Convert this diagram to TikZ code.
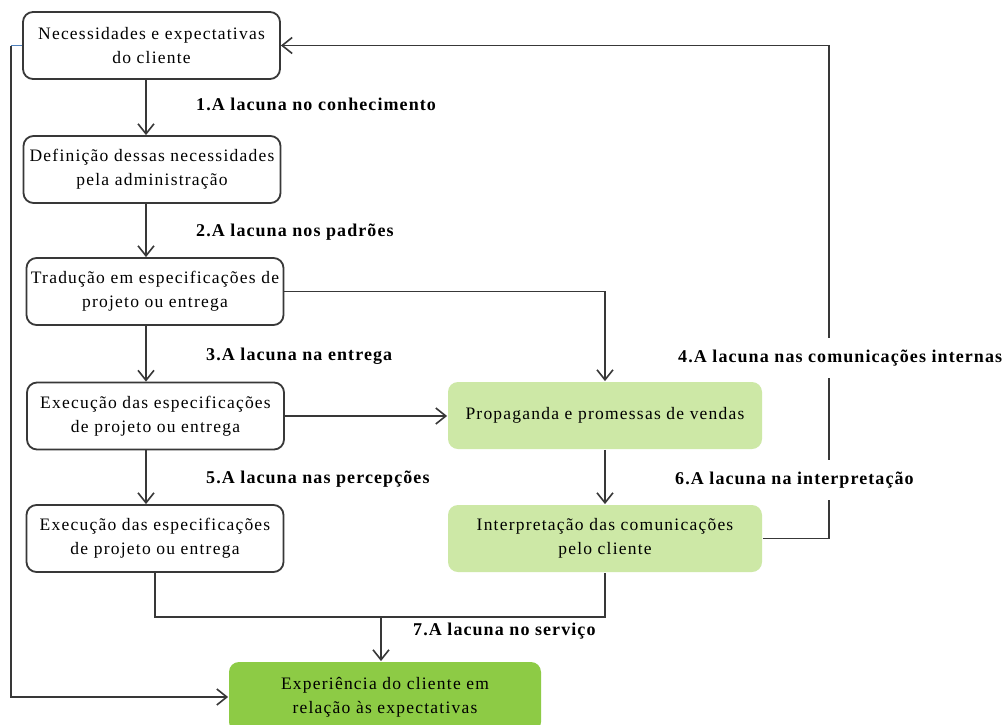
\documentclass[tikz,border=0pt]{standalone}
\usepackage{fontspec}
\setmainfont{Liberation Serif}
\newfontfamily\bodyfont{Liberation Serif}[LetterSpace=7]
\newfontfamily\lblfont{Liberation Serif}[LetterSpace=6]
\usetikzlibrary{arrows.meta}
\definecolor{edge}{HTML}{383838}
\definecolor{lgreen}{HTML}{CDE8A6}
\definecolor{dgreen}{HTML}{8DCB45}
\definecolor{lblue}{HTML}{4F81BD}
\tikzset{
  box/.style={draw=edge, line width=1.8pt, rounded corners=10pt, fill=white,
    minimum width=257pt, minimum height=67pt, inner sep=0pt, align=center,
    font=\bodyfont\fontsize{17.5}{24}\selectfont},
  gbox/.style={box, draw=none, fill=lgreen, minimum width=314pt},
  ebox/.style={box, draw=none, fill=dgreen, minimum width=312pt, minimum height=70pt},
  conn/.style={draw=edge, line width=1.8pt},
  arr/.style={conn, -{Straight Barb[length=10pt,width=16pt,line width=1.6pt]}},
  lbl/.style={anchor=west, inner xsep=1pt, inner ysep=2pt,
    font=\lblfont\bfseries\fontsize{18}{20}\selectfont},
  glbl/.style={lbl, fill=white, inner ysep=12pt}
}
\begin{document}
\begin{tikzpicture}[x=1pt,y=-1pt]
\useasboundingbox (0,0) rectangle (1005,724);
\fill[white] (0,0) rectangle (1005,724);
% boxes
\node[box] (n1) at (151.5,45.5) {Necessidades e expectativas\\do cliente};
\node[box] (n2) at (152,169.5) {Definição dessas necessidades\\pela administração};
\node[box] (n3) at (155,291.5) {Tradução em especificações de\\projeto ou entrega};
\node[box] (n4) at (155.5,416) {Execução das especificações\\de projeto ou entrega};
\node[box] (n5) at (155,538.5) {Execução das especificações\\de projeto ou entrega};
\node[gbox] (pr) at (605,415.5) {\raisebox{3pt}{Propaganda e promessas de vendas}};
\node[gbox] (ip) at (605,538.5) {Interpretação das comunicações\\pelo cliente};
\begin{scope}
\clip (0,0) rectangle (1005,724);
\node[ebox] (ex) at (385,697) {Experiência do cliente em\\relação às expectativas};
\end{scope}
% helper coordinates
\coordinate (ax) at (146,0);
\coordinate (fb) at (829,0);
\coordinate (jn) at (381,617);
\coordinate (lc) at ([xshift=-11]n1.west);
% vertical chain
\draw[arr] (n1.south -| ax) -- (n2.north -| ax);
\draw[arr] (n2.south -| ax) -- (n3.north -| ax);
\draw[arr] (n3.south -| ax) -- (n4.north -| ax);
\draw[arr] (n4.south -| ax) -- (n5.north -| ax);
% to propaganda
\draw[arr] (n3.east) -| (pr.north);
\draw[arr] (n4.east) -- (n4.east -| pr.west);
\draw[arr] (pr.south) -- (ip.north);
% feedback to top
\draw[arr] (ip.east) -| (fb |- n1.east) -- (n1.east);
% to experience
\draw[conn] (n5.south) |- (jn) -| (ip.south);
\draw[arr] (jn) -- (jn |- ex.north);
% left line
\draw[line width=1.3pt, lblue] (n1.west) -- (lc);
\draw[arr] (lc) |- (ex.west);
% labels
\node[lbl] (l1) at (195,104) {1.A lacuna no conhecimento};
\node[lbl] (l2) at (195,232) {2.A lacuna nos padrões};
\node[lbl] (l3) at (205,356) {3.A lacuna na entrega};
\node[lbl] (l5) at (205,479) {5.A lacuna nas percepções};
\node[glbl] (l4) at (677,358) {4.A lacuna nas comunicações internas};
\node[glbl] (l6) at (674,480) {6.A lacuna na interpretação};
\node[lbl] (l7) at (412,631) {7.A lacuna no serviço};
\end{tikzpicture}
\end{document}
